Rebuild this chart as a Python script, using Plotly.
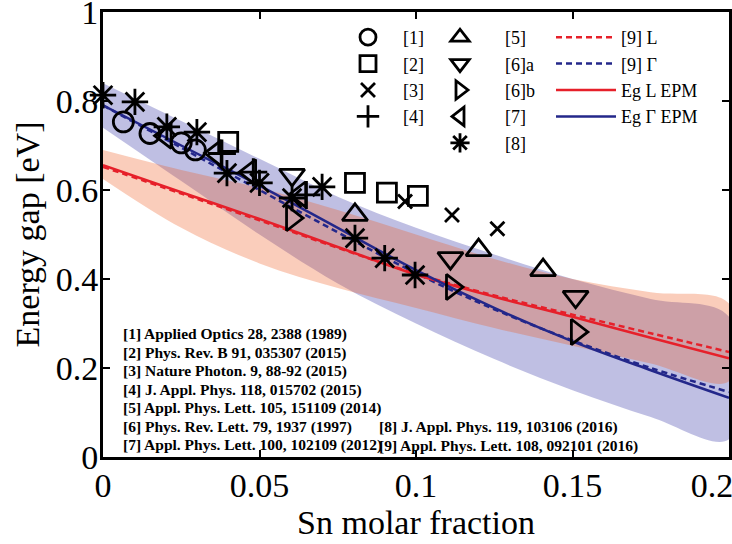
import plotly.graph_objects as go

# ---------------- data ----------------
x_grid = [0, 0.025, 0.05, 0.075, 0.1, 0.125, 0.15, 0.175, 0.2]
eg_L_epm = [0.656, 0.595, 0.535, 0.472, 0.410, 0.360, 0.315, 0.268, 0.222]
eg_G_epm = [0.790, 0.700, 0.610, 0.515, 0.420, 0.335, 0.260, 0.195, 0.133]
ref9_L = [0.652, 0.592, 0.532, 0.470, 0.412, 0.363, 0.320, 0.278, 0.236]
ref9_G = [0.790, 0.695, 0.600, 0.505, 0.413, 0.332, 0.262, 0.200, 0.146]

band_G_upper = [0.840, 0.755, 0.670, 0.585, 0.515, 0.455, 0.400, 0.355, 0.315]
band_G_lower = [0.740, 0.620, 0.500, 0.390, 0.300, 0.220, 0.150, 0.090, 0.040]
band_L_upper = [0.690, 0.645, 0.605, 0.555, 0.500, 0.445, 0.400, 0.370, 0.345]
band_L_lower = [0.625, 0.515, 0.435, 0.380, 0.335, 0.290, 0.250, 0.210, 0.170]

r1_x = [0.0065, 0.015, 0.025, 0.0295]
r1_y = [0.753, 0.727, 0.706, 0.690]
r2_x = [0.040, 0.0805, 0.0907, 0.1006]
r2_y = [0.708, 0.616, 0.594, 0.587]
r3_x = [0.0965, 0.1115, 0.126]
r3_y = [0.574, 0.544, 0.513]
r4_x = [0.038, 0.048, 0.065]
r4_y = [0.682, 0.640, 0.589]
r5_x = [0.0805, 0.120, 0.1406]
r5_y = [0.544, 0.465, 0.420]
r6a_x = [0.0604, 0.111, 0.151]
r6a_y = [0.634, 0.447, 0.360]
r6b_x = [0.0604, 0.1115, 0.1514]
r6b_y = [0.537, 0.382, 0.281]
r7_x = [0.020, 0.036, 0.047, 0.063]
r7_y = [0.722, 0.683, 0.640, 0.590]
r8_x = [0.0, 0.0102, 0.0204, 0.030, 0.0396, 0.050, 0.0604, 0.070, 0.0805, 0.090, 0.0997]
r8_y = [0.813, 0.798, 0.742, 0.730, 0.638, 0.616, 0.582, 0.607, 0.492, 0.447, 0.409]

x_ticks = [0, 0.05, 0.1, 0.15, 0.2]
x_ticktext = ["0", "0.05", "0.1", "0.15", "0.2\u00a0\u00a0\u00a0\u00a0"]
y_ticks = [0, 0.2, 0.4, 0.6, 0.8, 1]
y_ticktext = ["0", "0.2", "0.4", "0.6", "0.8", "1"]

refs_left = [
    "[1] Applied Optics 28, 2388 (1989)",
    "[2] Phys. Rev. B 91, 035307 (2015)",
    "[3] Nature Photon. 9, 88-92 (2015)",
    "[4] J. Appl. Phys. 118, 015702 (2015)",
    "[5] Appl. Phys. Lett. 105, 151109 (2014)",
    "[6] Phys. Rev. Lett. 79, 1937 (1997)",
    "[7] Appl. Phys. Lett. 100, 102109 (2012)",
]
refs_right = [
    "[8] J. Appl. Phys. 119, 103106 (2016)",
    "[9] Appl. Phys. Lett. 108, 092101 (2016)",
]

FONT = "Liberation Serif"
RED = "#e6202a"
BLUE = "#23278a"
W, H = 732, 544
PL, PT, PW, PH = 103, 12, 626, 445   # plot area in px


def px_x(p):
    return (p - PL) / PW


def px_y(p):
    return (PT + PH - p) / PH


fig = go.Figure()

# uncertainty bands
fig.add_trace(go.Scatter(
    x=x_grid + x_grid[::-1], y=band_G_upper + band_G_lower[::-1],
    fill="toself", fillcolor="rgba(60,60,170,0.33)", line=dict(width=0, shape="spline"),
    mode="lines", showlegend=False, hoverinfo="skip"))
fig.add_trace(go.Scatter(
    x=x_grid + x_grid[::-1], y=band_L_upper + band_L_lower[::-1],
    fill="toself", fillcolor="rgba(240,90,30,0.30)", line=dict(width=0, shape="spline"),
    mode="lines", showlegend=False, hoverinfo="skip"))

# lines (third legend column)
fig.add_trace(go.Scatter(x=x_grid, y=ref9_L, mode="lines", name="[9] L",
                         line=dict(color=RED, width=2.5, dash="6px,4px", shape="spline"),
                         legend="legend3"))
fig.add_trace(go.Scatter(x=x_grid, y=ref9_G, mode="lines", name="[9] Γ",
                         line=dict(color=BLUE, width=2.5, dash="6px,4px", shape="spline"),
                         legend="legend3"))
fig.add_trace(go.Scatter(x=x_grid, y=eg_L_epm, mode="lines", name="Eg L EPM",
                         line=dict(color=RED, width=2.5, shape="spline"),
                         legend="legend3"))
fig.add_trace(go.Scatter(x=x_grid, y=eg_G_epm, mode="lines", name="Eg Γ EPM",
                         line=dict(color=BLUE, width=2.5, shape="spline"),
                         legend="legend3"))


def mk(x, y, name, symbol, size, leg):
    fig.add_trace(go.Scatter(
        x=x, y=y, mode="markers", name=name, legend=leg,
        marker=dict(symbol=symbol, size=size, color="black",
                    line=dict(color="black", width=2.8)),
        cliponaxis=False))


mk(r1_x, r1_y, "[1]", "circle-open", 20, "legend")
mk(r2_x, r2_y, "[2]", "square-open", 19, "legend")
mk(r3_x, r3_y, "[3]", "x-thin-open", 14, "legend")
mk(r4_x, r4_y, "[4]", "cross-thin-open", 20, "legend")
mk(r5_x, r5_y, "[5]", "triangle-up-open", 22, "legend2")
mk(r6a_x, r6a_y, "[6]a", "triangle-down-open", 22, "legend2")
mk(r6b_x, r6b_y, "[6]b", "triangle-right-open", 22, "legend2")
mk(r7_x, r7_y, "[7]", "triangle-left-open", 22, "legend2")
mk(r8_x, r8_y, "[8]", "asterisk-open", 22, "legend2")

# reference list
for i, t in enumerate(refs_left):
    fig.add_annotation(xref="paper", yref="paper", x=px_x(121), y=px_y(334 + i * 18.5),
                       text="<b>" + t + "</b>", showarrow=False, xanchor="left", yanchor="middle",
                       font=dict(family=FONT, size=15.5, color="black"))
for i, t in enumerate(refs_right):
    fig.add_annotation(xref="paper", yref="paper", x=px_x(377), y=px_y(427 + i * 18.5),
                       text="<b>" + t + "</b>", showarrow=False, xanchor="left", yanchor="middle",
                       font=dict(family=FONT, size=15.5, color="black"))

leg_common = dict(bgcolor="rgba(0,0,0,0)", font=dict(family=FONT, size=18, color="black"),
                  xanchor="left", yanchor="top", itemclick=False, itemdoubleclick=False)
leg_y = px_y(19)

fig.update_layout(
    width=W, height=H,
    margin=dict(l=PL, r=W - PL - PW, t=PT, b=H - PT - PH, autoexpand=False),
    paper_bgcolor="white", plot_bgcolor="white",
    font=dict(family=FONT, color="black"),
    legend=dict(x=px_x(333), y=leg_y, itemwidth=60, **leg_common),
    legend2=dict(x=px_x(415), y=leg_y, itemwidth=80, **leg_common),
    legend3=dict(x=px_x(551), y=leg_y, itemwidth=60, **leg_common),
    xaxis=dict(range=[0, 0.2], tickvals=x_ticks, ticktext=x_ticktext,
               showline=True, linecolor="black", linewidth=3, mirror="ticks",
               ticks="inside", ticklen=7, tickwidth=2, tickcolor="black",
               showgrid=False, zeroline=False, ticklabeloverflow="allow",
               ticklabelstandoff=-4, automargin=False,
               tickfont=dict(family=FONT, size=34, color="black"),
               title=dict(text="Sn molar fraction", font=dict(family=FONT, size=34, color="black"),
                          standoff=8)),
    yaxis=dict(range=[0, 1], tickvals=y_ticks, ticktext=y_ticktext,
               showline=True, linecolor="black", linewidth=3, mirror="ticks",
               ticks="inside", ticklen=7, tickwidth=2, tickcolor="black",
               showgrid=False, zeroline=False, ticklabeloverflow="allow",
               ticklabelstandoff=-5, automargin=False,
               tickfont=dict(family=FONT, size=34, color="black"),
               title=dict(text="Energy gap [eV]", font=dict(family=FONT, size=34, color="black"),
                          standoff=6)),
)

fig.write_html("out.html")
